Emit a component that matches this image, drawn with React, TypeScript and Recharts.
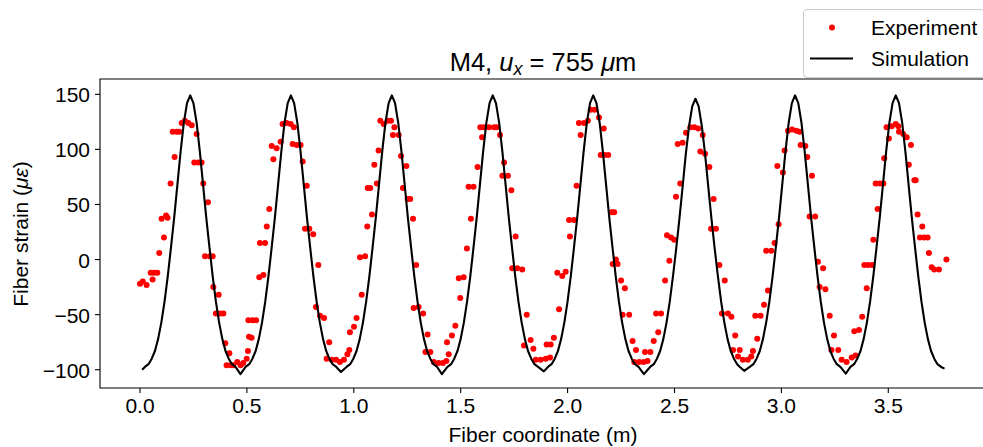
import { ReferenceArea, Scatter, ScatterChart, XAxis, YAxis } from 'recharts';

const FONT = '"Liberation Sans", Arial, sans-serif';

// Experiment: fiber coordinate (m), strain (µε), read per period
const experiment1: [number, number][] = [
  [0.0, -22], [0.013, -20], [0.031, -23], [0.05, -12], [0.059, -18], [0.065, -12],
  [0.081, -12], [0.09, 6], [0.101, 37], [0.112, 20], [0.122, 40], [0.129, 38],
  [0.143, 69], [0.153, 116], [0.162, 93], [0.172, 116], [0.184, 116], [0.195, 124],
  [0.21, 126], [0.226, 124], [0.242, 122], [0.254, 88], [0.265, 114], [0.273, 88],
  [0.288, 88], [0.296, 69], [0.304, 3], [0.318, 52], [0.327, 3], [0.34, 3],
  [0.343, -25], [0.355, -49], [0.368, -32], [0.374, -49], [0.39, -49], [0.399, -76],
  [0.405, -96], [0.418, -85], [0.424, -96], [0.436, -96], [0.455, -93], [0.471, -96],
  [0.483, -94], [0.499, -90], [0.505, -83], [0.51, -70], [0.507, -55],
];
const experiment2: [number, number][] = [
  [0.522, -71], [0.527, -55], [0.543, -55], [0.558, -16], [0.561, 15], [0.577, -14],
  [0.585, 15], [0.593, 30], [0.605, 46], [0.616, 103], [0.624, 91], [0.639, 101],
  [0.658, 107], [0.667, 123], [0.686, 124], [0.705, 123], [0.714, 105], [0.72, 120],
  [0.733, 104], [0.751, 104], [0.761, 89], [0.772, 28], [0.78, 67], [0.792, 28],
  [0.81, 23], [0.823, -43], [0.834, -5], [0.842, -51], [0.861, -53], [0.873, -90],
  [0.885, -75], [0.897, -91], [0.917, -91], [0.935, -93], [0.954, -91], [0.97, -86],
  [0.979, -82], [0.982, -66], [1.001, -61], [1.013, -53], [1.029, 2], [1.037, -32],
  [1.053, 3], [1.063, 30], [1.065, 65],
];
const experiment3: [number, number][] = [
  [1.077, 65], [1.085, 41], [1.096, 86], [1.108, 69], [1.116, 99], [1.124, 126],
  [1.14, 123], [1.158, 126], [1.174, 126], [1.183, 113], [1.19, 120], [1.21, 113],
  [1.221, 94], [1.23, 65], [1.246, 85], [1.252, 55], [1.264, 55], [1.277, 37],
  [1.28, -44], [1.292, -5], [1.303, -43], [1.324, -49], [1.335, -84], [1.345, -68],
  [1.358, -84], [1.374, -93], [1.397, -94], [1.417, -94], [1.433, -92], [1.436, -75],
  [1.444, -86], [1.459, -69], [1.475, -60], [1.491, -17], [1.498, -35], [1.514, -16],
  [1.529, 10], [1.537, 66], [1.548, 37], [1.56, 66], [1.579, 84], [1.592, 120],
  [1.6, 111],
];
const experiment4: [number, number][] = [
  [1.609, 120], [1.632, 120], [1.656, 120], [1.668, 120], [1.684, 113], [1.695, 76],
  [1.703, 88], [1.721, 76], [1.737, 63], [1.741, -8], [1.757, 21], [1.765, -8],
  [1.788, -9], [1.796, -78], [1.809, -50], [1.827, -73], [1.84, -81], [1.851, -91],
  [1.874, -91], [1.898, -90], [1.902, -77], [1.918, -89], [1.921, -77], [1.936, -71],
  [1.952, -12], [1.96, -45], [1.975, -15], [1.991, -11], [2.007, 36], [2.011, 21],
  [2.03, 36], [2.042, 67], [2.053, 124], [2.061, 113], [2.077, 124], [2.095, 126],
  [2.108, 136], [2.127, 136], [2.147, 129], [2.155, 95],
];
const experiment5: [number, number][] = [
  [2.169, 119], [2.172, 95], [2.19, 95], [2.206, 43], [2.211, -4], [2.218, 43],
  [2.226, 0], [2.234, -4], [2.25, -19], [2.257, -50], [2.268, -26], [2.288, -50],
  [2.304, -74], [2.312, -93], [2.32, -82], [2.335, -93], [2.356, -93], [2.362, -84],
  [2.374, -92], [2.387, -84], [2.403, -74], [2.414, -49], [2.424, -66], [2.437, -49],
  [2.456, -19], [2.465, 22], [2.476, -1], [2.484, 20], [2.499, 18], [2.507, 57],
  [2.515, 105], [2.527, 69], [2.538, 106], [2.554, 115], [2.574, 120], [2.593, 120],
  [2.611, 119], [2.621, 98], [2.632, 113], [2.643, 96], [2.663, 84], [2.671, 28],
  [2.683, 55], [2.694, 28], [2.71, -5],
];
const experiment6: [number, number][] = [
  [2.722, -49], [2.735, -19], [2.75, -49], [2.766, -52], [2.774, -82], [2.784, -69],
  [2.797, -88], [2.805, -82], [2.82, -91], [2.843, -91], [2.859, -88], [2.867, -83],
  [2.878, -51], [2.887, -72], [2.903, -51], [2.919, -41], [2.929, 8], [2.937, -28],
  [2.953, 8], [2.968, 15], [2.981, 85], [2.987, 32], [3.007, 79], [3.015, 99],
  [3.031, 117], [3.05, 118], [3.07, 117], [3.085, 116], [3.09, 104], [3.112, 103],
  [3.121, 93], [3.132, 39], [3.143, 76], [3.158, 39], [3.171, -2], [3.179, -25],
  [3.195, -8], [3.206, -27], [3.226, -51], [3.234, -82], [3.246, -69],
];
const experiment7: [number, number][] = [
  [3.266, -82], [3.282, -91], [3.305, -93], [3.329, -89], [3.341, -65], [3.347, -87],
  [3.363, -64], [3.378, -52], [3.388, -5], [3.399, -26], [3.406, -5], [3.425, -5],
  [3.43, 18], [3.441, 69], [3.45, 46], [3.461, 69], [3.477, 69], [3.481, 92],
  [3.492, 120], [3.503, 110], [3.516, 121], [3.535, 123], [3.547, 121], [3.55, 116],
  [3.57, 114], [3.586, 111], [3.596, 86], [3.606, 104], [3.622, 72], [3.628, 72],
  [3.637, 41], [3.648, 20], [3.659, 30], [3.668, 20], [3.684, 20], [3.69, 6],
  [3.703, -7], [3.715, -9], [3.737, -9], [3.772, 0],
];

// Simulation curve, one array per peak (trough to trough)
const simulation1: [number, number][] = [
  [0.01, -100], [0.023, -97.5], [0.04, -95], [0.055, -90], [0.07, -83], [0.085, -72],
  [0.1, -57], [0.115, -38], [0.13, -15], [0.145, 11], [0.16, 38], [0.175, 68],
  [0.19, 98], [0.205, 124], [0.22, 142], [0.235, 149], [0.25, 142], [0.265, 124],
  [0.28, 98], [0.295, 68], [0.31, 38], [0.325, 11], [0.34, -15], [0.355, -38],
  [0.37, -57], [0.385, -72], [0.4, -83], [0.415, -90], [0.43, -95], [0.447, -97.5],
  [0.47, -104],
];
const simulation2: [number, number][] = [
  [0.494, -97.5], [0.511, -95], [0.526, -90], [0.541, -83], [0.556, -72], [0.571, -57],
  [0.586, -38], [0.601, -15], [0.616, 11], [0.631, 38], [0.646, 68], [0.661, 98],
  [0.676, 124], [0.691, 142], [0.706, 149], [0.721, 142], [0.736, 124], [0.751, 98],
  [0.766, 68], [0.781, 38], [0.796, 11], [0.811, -15], [0.826, -38], [0.841, -57],
  [0.856, -72], [0.871, -83], [0.886, -90], [0.901, -95], [0.918, -97.5], [0.94, -102],
];
const simulation3: [number, number][] = [
  [0.966, -97.5], [0.983, -95], [0.998, -90], [1.013, -83], [1.028, -72], [1.043, -57],
  [1.058, -38], [1.073, -15], [1.088, 11], [1.103, 38], [1.118, 68], [1.133, 98],
  [1.148, 124], [1.163, 142], [1.178, 149], [1.193, 142], [1.208, 124], [1.223, 98],
  [1.238, 68], [1.253, 38], [1.268, 11], [1.283, -15], [1.298, -38], [1.313, -57],
  [1.328, -72], [1.343, -83], [1.358, -90], [1.373, -95], [1.39, -97.5], [1.412, -104],
];
const simulation4: [number, number][] = [
  [1.438, -97.5], [1.455, -95], [1.47, -90], [1.485, -83], [1.5, -72], [1.515, -57],
  [1.53, -38], [1.545, -15], [1.56, 11], [1.575, 38], [1.59, 68], [1.605, 98],
  [1.62, 124], [1.635, 142], [1.65, 149], [1.665, 142], [1.68, 124], [1.695, 98],
  [1.71, 68], [1.725, 38], [1.74, 11], [1.755, -15], [1.77, -38], [1.785, -57],
  [1.8, -72], [1.815, -83], [1.83, -90], [1.845, -95], [1.862, -97.5], [1.889, -101.5],
];
const simulation5: [number, number][] = [
  [1.908, -97.5], [1.925, -95], [1.94, -90], [1.955, -83], [1.97, -72], [1.985, -57],
  [2.0, -38], [2.015, -15], [2.03, 11], [2.045, 38], [2.06, 68], [2.075, 98],
  [2.09, 124], [2.105, 142], [2.12, 149], [2.135, 142], [2.15, 124], [2.165, 98],
  [2.18, 68], [2.195, 38], [2.21, 11], [2.225, -15], [2.24, -38], [2.255, -57],
  [2.27, -72], [2.285, -83], [2.3, -90], [2.315, -95], [2.332, -97.5], [2.357, -104],
];
const simulation6: [number, number][] = [
  [2.386, -97.5], [2.403, -95], [2.418, -90], [2.433, -83], [2.448, -72], [2.463, -57],
  [2.478, -38], [2.493, -15], [2.508, 10], [2.523, 37], [2.538, 66], [2.553, 96],
  [2.568, 121], [2.583, 139], [2.598, 146], [2.613, 139], [2.628, 121], [2.643, 96],
  [2.658, 66], [2.673, 37], [2.688, 10], [2.703, -15], [2.718, -38], [2.733, -57],
  [2.748, -72], [2.763, -83], [2.778, -90], [2.793, -95], [2.806, -97.5], [2.826, -101],
];
const simulation7: [number, number][] = [
  [2.852, -97.5], [2.869, -95], [2.884, -90], [2.899, -83], [2.914, -72], [2.929, -57],
  [2.944, -38], [2.959, -15], [2.974, 11], [2.989, 38], [3.004, 68], [3.019, 98],
  [3.034, 124], [3.049, 142], [3.064, 149], [3.079, 142], [3.094, 124], [3.109, 98],
  [3.124, 68], [3.139, 38], [3.154, 11], [3.169, -15], [3.184, -38], [3.199, -57],
  [3.214, -72], [3.229, -83], [3.244, -90], [3.259, -95], [3.276, -97.5], [3.301, -103.5],
];
const simulation8: [number, number][] = [
  [3.323, -97.5], [3.34, -95], [3.355, -90], [3.37, -83], [3.385, -72], [3.4, -57],
  [3.415, -38], [3.43, -15], [3.445, 11], [3.46, 38], [3.475, 68], [3.49, 98],
  [3.505, 124], [3.52, 142], [3.535, 149], [3.55, 142], [3.565, 124], [3.58, 98],
  [3.595, 68], [3.61, 38], [3.625, 11], [3.64, -15], [3.655, -38], [3.67, -57],
  [3.685, -72], [3.7, -83], [3.715, -90], [3.73, -95], [3.747, -97.5], [3.763, -99],
];

const xTicks = [0, 0.5, 1, 1.5, 2, 2.5, 3, 3.5];
const yTicks = [-100, -50, 0, 50, 100, 150];
const xDomain: [number, number] = [-0.187, 3.957];
const yDomain: [number, number] = [-116.6, 163.9];

const toPoints = (rows: [number, number][][]) =>
  rows.flat().map(([x, y]) => ({ x, y }));

const experimentData = toPoints([
  experiment1, experiment2, experiment3, experiment4,
  experiment5, experiment6, experiment7,
]);
const simulationData = toPoints([
  simulation1, simulation2, simulation3, simulation4,
  simulation5, simulation6, simulation7, simulation8,
]);

const fmtY = (v: number) => (v < 0 ? `\u2212${Math.abs(v)}` : `${v}`);

function XTick({ x, y, payload }: any) {
  return (
    <text x={x} y={y} dy={15} textAnchor="middle" fontSize={21} fontFamily={FONT} fill="#000">
      {Number(payload.value).toFixed(1)}
    </text>
  );
}

function YTick({ x, y, payload }: any) {
  return (
    <text x={x} y={y} dy={8} textAnchor="end" fontSize={21} fontFamily={FONT} fill="#000">
      {fmtY(payload.value)}
    </text>
  );
}

const dot = (props: any) => <circle cx={props.cx} cy={props.cy} r={3} fill="#ff0000" />;
const noDot = () => <g />;

export default function App() {
  return (
    <div
      style={{
        position: 'absolute',
        left: 0,
        top: 0,
        width: 983,
        height: 447,
        overflow: 'hidden',
        background: '#fff',
        fontFamily: FONT,
      }}
    >
      <ScatterChart width={990} height={447} margin={{ top: 79, right: 4, bottom: 0, left: 0 }}>
        <XAxis
          type="number"
          dataKey="x"
          domain={xDomain}
          ticks={xTicks}
          allowDataOverflow
          height={59}
          axisLine={false}
          tickSize={5}
          tickMargin={5}
          tickLine={{ stroke: '#000', strokeWidth: 1.1 }}
          tick={XTick}
        />
        <YAxis
          type="number"
          dataKey="y"
          domain={yDomain}
          ticks={yTicks}
          allowDataOverflow
          width={100}
          axisLine={false}
          tickSize={5}
          tickMargin={5}
          tickLine={{ stroke: '#000', strokeWidth: 1.1 }}
          tick={YTick}
        />
        <ReferenceArea
          x1={xDomain[0]}
          x2={xDomain[1]}
          y1={yDomain[0]}
          y2={yDomain[1]}
          fill="none"
          stroke="#000"
          strokeWidth={1.1}
          fillOpacity={0}
        />
        <Scatter data={experimentData} shape={dot} isAnimationActive={false} />
        <Scatter
          data={simulationData}
          shape={noDot}
          line={{ stroke: '#000', strokeWidth: 2.1, strokeLinejoin: 'round' }}
          isAnimationActive={false}
        />
      </ScatterChart>

      <svg
        width={983}
        height={447}
        style={{ position: 'absolute', left: 0, top: 0, pointerEvents: 'none' }}
        fontFamily={FONT}
      >
        <text x={543} y={71} textAnchor="middle" fontSize={25.5} fill="#000">
          {'M4, '}
          <tspan fontStyle="italic">u</tspan>
          <tspan fontStyle="italic" fontSize={18} dy={4}>x</tspan>
          <tspan dy={-4}>{' = 755 '}</tspan>
          <tspan fontStyle="italic">μ</tspan>
          {'m'}
        </text>
        <text x={543} y={442} textAnchor="middle" fontSize={21} fill="#000">
          Fiber coordinate (m)
        </text>
        <text
          transform="translate(28,234) rotate(-90)"
          textAnchor="middle"
          fontSize={21}
          fill="#000"
        >
          {'Fiber strain ('}
          <tspan fontStyle="italic">με</tspan>
          {')'}
        </text>

        <rect x={803.5} y={9.5} width={181} height={68} rx={4} fill="#fff" stroke="#cccccc" strokeWidth={1.1} />
        <circle cx={832} cy={27.5} r={3} fill="#ff0000" />
        <text x={871} y={34.5} fontSize={21} fill="#000">Experiment</text>
        <line x1={810} x2={853} y1={58.5} y2={58.5} stroke="#000" strokeWidth={2.1} />
        <text x={871} y={65.5} fontSize={21} fill="#000">Simulation</text>
      </svg>
    </div>
  );
}
